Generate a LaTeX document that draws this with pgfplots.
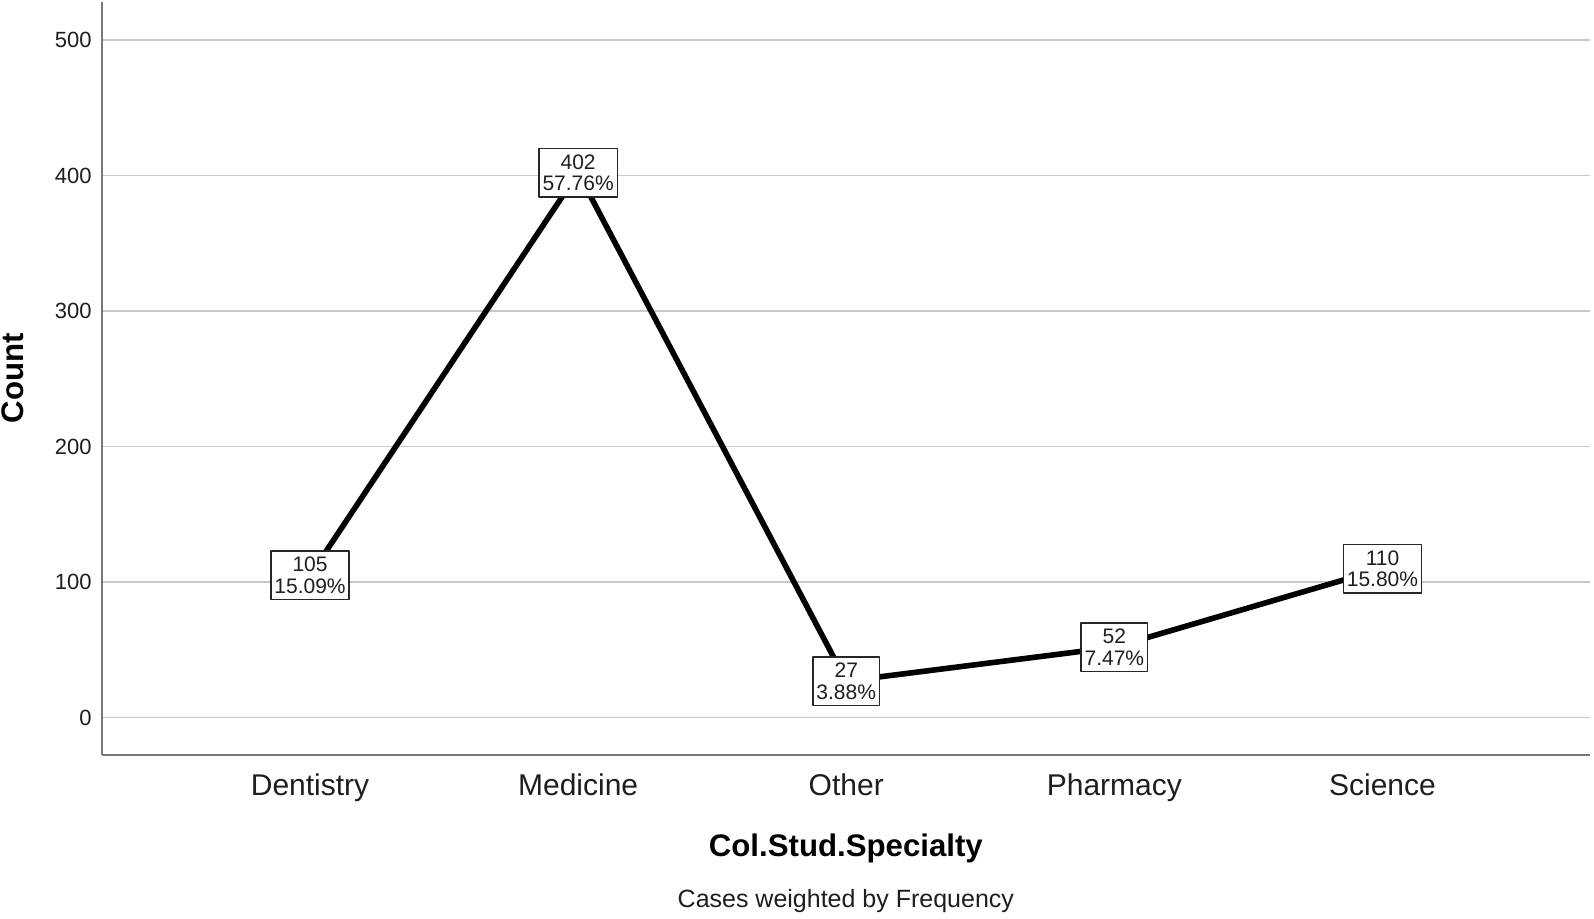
\documentclass[border=0pt]{standalone}
\usepackage{pgfplots}
\pgfplotsset{compat=1.18}
\usepackage{fontspec}
\setmainfont{Liberation Sans}
\definecolor{axgray}{RGB}{120,120,120}
\definecolor{gridgray}{RGB}{200,200,200}
\definecolor{txt}{RGB}{30,30,30}
\begin{document}
\begin{tikzpicture}
\begin{axis}[
  name=ax,
  scale only axis,
  width=744.2pt, height=376.5pt,
  xmin=-0.777, xmax=4.774,
  ymin=-27.5, ymax=528,
  axis lines=left,
  axis line style={-, draw=axgray, line width=1pt},
  xtick={0,1,2,3,4},
  xticklabels={Dentistry,Medicine,Other,Pharmacy,Science},
  ytick={0,100,200,300,400,500},
  ymajorgrids,
  grid style={gridgray, line width=0.75pt},
  major tick length=0pt,
  /pgf/number format/assume math mode=true,
  xticklabel style={font=\fontsize{15}{18}\selectfont, text=txt, yshift=-6pt},
  yticklabel style={font=\fontsize{11}{13}\selectfont, text=txt, xshift=-1.5pt},
  xlabel={Col.Stud.Specialty},
  xlabel style={at={(axis description cs:0.5,-0.1248)}, anchor=center, font=\bfseries\fontsize{15.6}{18}\selectfont},
  ylabel={Count},
  ylabel style={at={(axis description cs:-0.0598,0.5)}, anchor=center, font=\bfseries\fontsize{15.6}{18}\selectfont},
  clip=false,
]
\addplot[black, line width=2.8pt, line join=round, mark=none,
  point meta=explicit symbolic,
  nodes near coords,
  nodes near coords align={center},
  every node near coord/.style={draw=black!85, line width=0.75pt, fill=white, align=center,
     font=\fontsize{10.5}{10.8}\selectfont, text=txt, inner xsep=1.8pt, inner ysep=3pt, anchor=center}]
coordinates {
  (0,105) [{105\\15.09\%}]
  (1,402) [{402\\57.76\%}]
  (2,27)  [{27\\3.88\%}]
  (3,52)  [{52\\7.47\%}]
  (4,110) [{110\\15.80\%}]
};
\end{axis}
\node[font=\fontsize{12.5}{15}\selectfont, text=txt, anchor=center] at ([yshift=-73pt]ax.south) {Cases weighted by Frequency};
\pgfresetboundingbox
\path[use as bounding box] ([shift={(-50.85pt,-82pt)}]ax.south west) rectangle ([shift={(2pt,1pt)}]ax.north east);
\end{tikzpicture}
\end{document}
